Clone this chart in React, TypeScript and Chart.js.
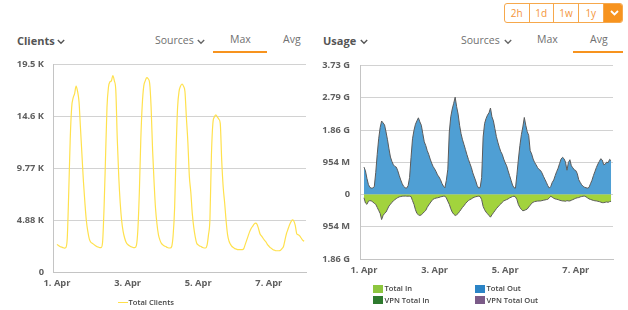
import React, { useEffect, useRef } from "react";
import { Chart, registerables } from "chart.js";
Chart.register(...registerables);

// ---- data (hourly, hour 0 = 1. Apr 00:00) ----
const clientsK = [
  2.6, 2.5, 2.4, 2.35, 2.3, 2.25, 2.3, 3.2, 7.5, 12.5, 15.5, 16.4, 16.8, 17.5, 17.0, 16.0, 13.5, 11.0, 8.5, 6.5, 4.8, 3.8, 3.1, 2.8,
  2.7, 2.6, 2.5, 2.4, 2.35, 2.3, 2.3, 2.8, 6.0, 10.7, 15.5, 17.4, 17.9, 18.0, 18.5, 18.0, 17.1, 12.5, 9.0, 6.5, 4.8, 3.8, 3.2, 2.8,
  2.6, 2.5, 2.4, 2.35, 2.3, 2.3, 2.5, 4.0, 7.5, 12.5, 15.8, 17.5, 18.0, 18.3, 18.2, 17.8, 15.5, 11.5, 8.5, 6.0, 4.5, 3.5, 3.0, 2.7,
  2.55, 2.45, 2.4, 2.3, 2.26, 2.26, 2.4, 3.5, 6.1, 11.5, 15.5, 17.0, 17.5, 17.7, 17.5, 17.0, 14.5, 12.2, 9.0, 7.5, 5.5, 4.2, 3.3, 2.7,
  2.55, 2.45, 2.4, 2.3, 2.26, 2.26, 2.5, 3.5, 5.0, 11.0, 14.0, 14.6, 14.8, 14.6, 14.4, 14.0, 10.5, 8.0, 6.5, 4.8, 3.5, 2.9, 2.6, 2.4,
  2.3, 2.2, 2.15, 2.1, 2.1, 2.1, 2.1, 2.2, 2.6, 3.0, 3.4, 3.8, 4.1, 4.3, 4.5, 4.6, 4.5, 4.1, 3.6, 3.4, 3.2, 3.0, 2.85, 2.6,
  2.45, 2.3, 2.2, 2.1, 2.05, 2.0, 2.0, 2.0, 2.05, 2.2, 2.4, 3.0, 3.6, 4.0, 4.4, 4.7, 4.9, 4.8, 4.4, 3.6, 3.5, 3.4, 3.2, 3.0, 2.9,
];

const totalOutM = [
  811, 700, 480, 300, 210, 190, 195, 230, 650, 1190, 1650, 1980, 2175, 2120, 2060, 1850, 1620, 1350, 1110, 980, 880, 830, 810, 700,
  560, 430, 320, 240, 200, 190, 260, 500, 1100, 1650, 1900, 2080, 2180, 2270, 2150, 2050, 1800, 1560, 1450, 1300, 1190, 1050, 930, 830,
  760, 680, 580, 520, 440, 330, 250, 200, 420, 750, 1850, 2300, 2530, 2700, 2880, 2600, 2380, 2050, 1800, 1620, 1480, 1330, 1180, 1040,
  920, 800, 640, 520, 400, 260, 190, 210, 500, 1700, 2100, 2250, 2350, 2420, 2560, 2300, 2180, 1950, 1720, 1550, 1400, 1270, 1190, 1050,
  940, 850, 700, 560, 420, 280, 200, 190, 600, 1050, 1450, 1770, 2000, 2280, 2050, 1860, 1750, 1300, 1200, 1050, 950, 880, 800, 740,
  716, 640, 540, 450, 360, 260, 190, 240, 360, 430, 560, 680, 780, 920, 1050, 1100, 1060, 960, 720, 950, 1030, 850, 790, 730,
  710, 620, 440, 360, 290, 240, 215, 200, 190, 210, 320, 420, 560, 680, 800, 900, 980, 1060, 1020, 880, 900, 960, 940, 1040, 1000,
];

const totalInM = [
  -97, -250, -290, -200, -180, -190, -220, -260, -290, -380, -470, -560, -740, -620, -560, -520, -430, -340, -290, -230, -190, -150, -120, -90,
  -70, -60, -50, -48, -45, -50, -48, -50, -60, -180, -290, -450, -560, -600, -620, -600, -560, -510, -470, -380, -310, -250, -190, -140,
  -120, -105, -97, -85, -70, -60, -50, -48, -100, -200, -290, -420, -520, -580, -620, -600, -560, -500, -440, -380, -330, -270, -220, -180,
  -150, -130, -100, -80, -65, -55, -48, -60, -150, -350, -450, -520, -570, -620, -670, -600, -540, -480, -420, -370, -320, -280, -230, -190,
  -170, -150, -130, -100, -80, -60, -48, -70, -150, -300, -380, -440, -480, -470, -450, -430, -370, -320, -260, -230, -210, -200, -195, -190,
  -190, -180, -170, -160, -150, -140, -100, -50, -80, -110, -130, -140, -150, -170, -180, -190, -190, -200, -180, -190, -190, -170, -150, -130,
  -110, -97, -90, -70, -60, -50, -48, -70, -100, -130, -145, -160, -175, -185, -190, -200, -210, -225, -240, -240, -230, -220, -230, -210, -200,
];

const vpnTotalInM: number[] = [];
const vpnTotalOutM: number[] = [];

const dayTickHours = [0, 48, 96, 144];
const dayTickLabels = ["1. Apr", "3. Apr", "5. Apr", "7. Apr"];
const clientTickValues = [0, 4.8825, 9.765, 14.6475, 19.53];
const clientTickLabels = ["0", "4.88 K", "9.77 K", "14.6 K", "19.5 K"];
const usageTickValues = [-1908, -954, 0, 954, 1908, 2862, 3816];
const usageTickLabels = ["1.86 G", "954 M", "0", "954 M", "1.86 G", "2.79 G", "3.73 G"];
const rangeButtons = ["2h", "1d", "1w", "1y"];

const FONT = '"Open Sans", sans-serif';
const ORANGE = "#f7931e";

const toXY = (arr: number[]) => arr.map((v, i) => ({ x: i, y: v }));

function makeScales(yVals: number[], yLabels: string[], yWidth: number, yPad: number) {
  return {
    x: {
      type: "linear" as const,
      min: -2.7,
      max: 169.3,
      grid: { display: false, drawTicks: false },
      border: { display: true, color: "#c4c4c4", width: 1 },
      afterBuildTicks: (s: any) => {
        s.ticks = dayTickHours.map((v) => ({ value: v }));
      },
      afterFit: (s: any) => {
        s.height = 18;
      },
      ticks: {
        autoSkip: false,
        maxRotation: 0,
        padding: 6,
        color: "#5f5f5f",
        font: { family: FONT, size: 9.3, weight: "bold" as const },
        callback: (v: any) => {
          const i = dayTickHours.indexOf(v);
          return i >= 0 ? dayTickLabels[i] : "";
        },
      },
    },
    y: {
      type: "linear" as const,
      min: yVals[0],
      max: yVals[yVals.length - 1],
      grid: { color: "#d2d2d2", drawTicks: false, lineWidth: 1 },
      border: { display: true, color: "#c4c4c4", width: 1 },
      afterBuildTicks: (s: any) => {
        s.ticks = yVals.map((v) => ({ value: v }));
      },
      afterFit: (s: any) => {
        s.width = yWidth;
      },
      ticks: {
        padding: yPad,
        color: "#5f5f5f",
        font: { family: FONT, size: 9.3, weight: "bold" as const },
        callback: (v: any) => {
          const i = yVals.indexOf(v);
          return i >= 0 ? yLabels[i] : "";
        },
      },
    },
  };
}

function ClientsChart() {
  const ref = useRef<HTMLCanvasElement | null>(null);
  useEffect(() => {
    if (!ref.current) return;
    const chart = new Chart(ref.current, {
      type: "line",
      data: {
        datasets: [
          {
            label: "Total Clients",
            data: toXY(clientsK),
            borderColor: "#ffe14d",
            borderWidth: 1.2,
            pointRadius: 0,
            cubicInterpolationMode: "monotone",
            fill: false,
          },
        ],
      },
      options: {
        animation: false,
        responsive: false,
        devicePixelRatio: 1,
        layout: { padding: { top: 9, right: 4, left: 0, bottom: 0 } },
        plugins: { legend: { display: false }, tooltip: { enabled: false } },
        scales: makeScales(clientTickValues, clientTickLabels, 53, 9) as any,
      },
    });
    return () => chart.destroy();
  }, []);
  return (
    <canvas
      ref={ref}
      width={310}
      height={240}
      style={{ position: "absolute", left: 0, top: 50, width: 310, height: 240, display: "block" }}
    />
  );
}

function UsageChart() {
  const ref = useRef<HTMLCanvasElement | null>(null);
  useEffect(() => {
    if (!ref.current) return;
    const chart = new Chart(ref.current, {
      type: "line",
      data: {
        datasets: [
          {
            label: "Total In",
            data: toXY(totalInM),
            borderColor: "#5b5b5b",
            borderWidth: 1,
            backgroundColor: "#a2d33d",
            pointRadius: 0,
            fill: "origin",
          },
          {
            label: "Total Out",
            data: toXY(totalOutM),
            borderColor: "#5b5b5b",
            borderWidth: 1,
            backgroundColor: "#4f9fd4",
            pointRadius: 0,
            fill: "origin",
          },
          {
            label: "VPN Total In",
            data: toXY(vpnTotalInM),
            borderColor: "#2f7a2f",
            backgroundColor: "#2f7a2f",
            pointRadius: 0,
          },
          {
            label: "VPN Total Out",
            data: toXY(vpnTotalOutM),
            borderColor: "#7a5a86",
            backgroundColor: "#7a5a86",
            pointRadius: 0,
          },
        ],
      },
      options: {
        animation: false,
        responsive: false,
        devicePixelRatio: 1,
        layout: { padding: { top: 9, right: 7, left: 0, bottom: 0 } },
        plugins: { legend: { display: false }, tooltip: { enabled: false } },
        scales: makeScales(usageTickValues, usageTickLabels, 50, 10) as any,
      },
    });
    return () => chart.destroy();
  }, []);
  return (
    <canvas
      ref={ref}
      width={310}
      height={227}
      style={{ position: "absolute", left: 310, top: 50, width: 310, height: 227, display: "block" }}
    />
  );
}

function Txt(props: { x: number; baseline: number; size: number; weight?: number; color?: string; children: any }) {
  const { x, baseline, size, weight = 400, color = "#707070", children } = props;
  return (
    <div
      style={{
        position: "absolute",
        left: x,
        top: baseline - 0.888 * size,
        fontSize: size,
        lineHeight: `${size}px`,
        fontWeight: weight,
        color,
        whiteSpace: "nowrap",
        fontFamily: FONT,
      }}
    >
      {children}
    </div>
  );
}

function Chevron(props: { x: number; y: number; color?: string }) {
  return (
    <svg
      width={8}
      height={6}
      style={{ position: "absolute", left: props.x, top: props.y }}
    >
      <polyline points="0.8,1 4,4.2 7.2,1" stroke={props.color || "#666"} strokeWidth={1.4} fill="none" />
    </svg>
  );
}

function Square(props: { x: number; y: number; color: string }) {
  return (
    <div style={{ position: "absolute", left: props.x, top: props.y, width: 10, height: 8, background: props.color }} />
  );
}

const legendItems = [
  { label: "Total In", color: "#8dc63f", col: 0, row: 0 },
  { label: "Total Out", color: "#2b84c6", col: 1, row: 0 },
  { label: "VPN Total In", color: "#2e7a2e", col: 0, row: 1 },
  { label: "VPN Total Out", color: "#7b5b88", col: 1, row: 1 },
];

export default function App() {
  const btnEdges = [504, 528.5, 553, 578, 602.5, 623.5];
  return (
    <div
      style={{
        position: "absolute",
        left: 0,
        top: 0,
        width: 628,
        height: 310,
        background: "#fff",
        overflow: "hidden",
        fontFamily: FONT,
      }}
    >
      {/* range buttons */}
      <div
        style={{
          position: "absolute",
          left: 504,
          top: 3,
          width: 119,
          height: 20,
          border: `1px solid #f6a84c`,
          borderRadius: 3,
          boxSizing: "border-box",
          overflow: "hidden",
        }}
      >
        {rangeButtons.map((b, i) => (
          <div
            key={b}
            style={{
              position: "absolute",
              left: btnEdges[i] - 504,
              top: 0,
              width: btnEdges[i + 1] - btnEdges[i],
              height: 18,
              borderRight: "1px solid #f6a84c",
              boxSizing: "border-box",
              color: "#f4953a",
              fontSize: 10,
              lineHeight: "18px",
              textAlign: "center",
              fontFamily: FONT,
            }}
          >
            {b}
          </div>
        ))}
        <div
          style={{
            position: "absolute",
            left: btnEdges[4] - 504,
            top: 0,
            width: 21,
            height: 18,
            background: ORANGE,
          }}
        >
          <svg width={21} height={18} style={{ position: "absolute", left: 0, top: 0 }}>
            <polyline points="7,7 10.5,10.5 14,7" stroke="#fff" strokeWidth={1.8} fill="none" />
          </svg>
        </div>
      </div>

      {/* left header */}
      <Txt x={17} baseline={45} size={11} weight={700} color="#555">Clients</Txt>
      <Chevron x={57} y={39} color="#555" />
      <Txt x={155} baseline={44.3} size={10.5}>Sources</Txt>
      <Chevron x={197} y={39} />
      <Txt x={230} baseline={43.5} size={10.5}>Max</Txt>
      <Txt x={283} baseline={43.5} size={10.5}>Avg</Txt>
      <div style={{ position: "absolute", left: 213, top: 50.5, width: 54, height: 2, background: ORANGE }} />

      {/* right header */}
      <Txt x={323} baseline={45} size={11} weight={700} color="#555">Usage</Txt>
      <Chevron x={360} y={39} color="#555" />
      <Txt x={461} baseline={44.3} size={10.5}>Sources</Txt>
      <Chevron x={504} y={39} />
      <Txt x={537} baseline={43.5} size={10.5}>Max</Txt>
      <Txt x={590} baseline={43.5} size={10.5}>Avg</Txt>
      <div style={{ position: "absolute", left: 573, top: 50.5, width: 50, height: 2, background: ORANGE }} />

      <ClientsChart />
      <UsageChart />

      {/* left legend */}
      <div style={{ position: "absolute", left: 118, top: 301.5, width: 10, height: 1.3, background: "#ffe04a" }} />
      <Txt x={128.5} baseline={305.6} size={7.6} weight={600} color="#444">Total Clients</Txt>

      {/* right legend */}
      {legendItems.map((it) => {
        const x = it.col === 0 ? 373 : 475;
        const y = it.row === 0 ? 284.5 : 296;
        return (
          <React.Fragment key={it.label}>
            <Square x={x} y={y} color={it.color} />
            <Txt x={x + 11.5} baseline={y + 7.6} size={7.6} weight={600} color="#444">{it.label}</Txt>
          </React.Fragment>
        );
      })}
    </div>
  );
}
